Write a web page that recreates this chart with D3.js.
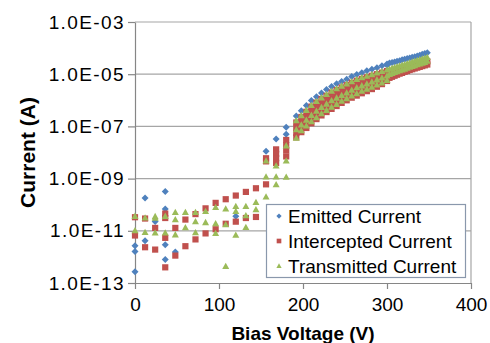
<!DOCTYPE html>
<html><head><meta charset="utf-8">
<script src="https://cdn.jsdelivr.net/npm/d3@7"></script>
<style>
body{margin:0;background:#fff}
text{font-family:"Liberation Sans",Arial,sans-serif;fill:#000}
</style>
</head><body>
<svg id="c" width="490" height="343"></svg>
<script>
const xTicks = [0, 100, 200, 300, 400];
const yTicks = [1e-13, 1e-11, 1e-9, 1e-7, 1e-5, 1e-3];
const yTickLabels = ["1.0E-13", "1.0E-11", "1.0E-09", "1.0E-07", "1.0E-05", "1.0E-03"];
const seriesNames = ["Emitted Current", "Intercepted Current", "Transmitted Current"];
const seriesColors = ["#4F81BD", "#C0504D", "#9BBB59"];

const emitted = [
  [0,-11.57,-11.79,-12.57],[12,-9.74,-11.38],[24,-10.64],[36,-9.49,-10.16,-11.53,-12.10],
  [48,-11.81],[120,-10.44],[156,-7.95],[168,-7.48],[180,-7.03,-7.30],
  [192,-6.60],[198,-6.40],[204,-6.20],[210,-6.01],[216,-5.86],[222,-5.72],[228,-5.59],
  [234,-5.47],[240,-5.37],[246,-5.28],[252,-5.19],[258,-5.09],[264,-5.01],[270,-4.94],
  [276,-4.87],[282,-4.81],[288,-4.75],[294,-4.68],[300,-4.61,-4.66],
  [303,-4.57],[306,-4.55],[309,-4.53],[312,-4.50],[315,-4.48],[318,-4.45],[321,-4.43],
  [324,-4.40],[327,-4.38],[330,-4.35],[333,-4.33],[336,-4.30],[339,-4.27],[342,-4.24],
  [345,-4.21],[348,-4.18]
];
const intercepted = [
  [0,-10.48,-11.18],[12,-10.53,-11.63],[24,-10.89,-11.72],[36,-10.34,-10.51,-11.27,-12.40],
  [48,-10.89,-11.95],[60,-10.57,-11.59],[72,-10.36,-11.33],[84,-10.14,-11.10],
  [96,-9.93,-10.94],[108,-9.79,-10.73],[120,-9.65,-10.65],[132,-9.51,-10.51],
  [144,-9.37,-10.47],[156,-8.22,-8.34,-9.22],[168,-7.88,-8.05,-8.22,-8.40],
  [180,-7.52,-7.72,-7.92,-8.15],[192,-6.85,-7.05,-7.25,-7.42],[198,-6.64,-6.84,-7.04,-7.22],
  [204,-6.44,-6.64,-6.86,-7.06],[210,-6.24,-6.45,-6.66,-6.88],[216,-6.09,-6.30,-6.52,-6.72],
  [222,-5.95,-6.16,-6.38,-6.58],[228,-5.83,-6.04,-6.25,-6.45],[234,-5.71,-5.92,-6.13,-6.33],
  [240,-5.61,-5.82,-6.02,-6.22],[246,-5.51,-5.72,-5.92,-6.10],[252,-5.42,-5.63,-5.82,-6.00],
  [258,-5.33,-5.53,-5.72,-5.90],[264,-5.25,-5.44,-5.63,-5.82],[270,-5.18,-5.37,-5.55,-5.73],
  [276,-5.12,-5.30,-5.48,-5.65],[282,-5.06,-5.24,-5.40,-5.57],[288,-5.00,-5.16,-5.33,-5.48],
  [294,-4.94,-5.10,-5.25,-5.38],[300,-4.88,-5.02,-5.15,-5.26],
  [303,-4.95,-5.14],[306,-4.93,-5.10],[309,-4.90,-5.06],[312,-4.87,-5.02],[315,-4.84,-4.98],
  [318,-4.81,-4.95],[321,-4.78,-4.91],[324,-4.75,-4.88],[327,-4.72,-4.84],[330,-4.69,-4.81],
  [333,-4.66,-4.78],[336,-4.63,-4.75],[339,-4.60,-4.72],[342,-4.57,-4.69],[345,-4.54,-4.66],
  [348,-4.51,-4.63]
];
const transmitted = [
  [0,-10.44,-10.99],[12,-10.50,-11.06],[24,-10.45,-10.51,-11.08],[36,-10.44,-11.08],
  [48,-10.29,-10.57,-11.15],[60,-10.29,-10.88],[72,-10.29,-10.65,-11.07],[84,-10.25,-10.68],
  [96,-10.10,-10.72,-11.10],[108,-10.16,-10.76,-12.36],[120,-10.06,-10.25,-11.16],
  [132,-10.06,-10.42,-10.87],[144,-9.91,-10.19],[156,-8.32,-8.93,-9.70],[168,-8.51,-8.93,-9.23],
  [180,-7.74,-8.32,-8.94],[192,-6.78,-7.12,-7.45],[198,-6.58,-6.94,-7.16],[204,-6.38,-6.76,-6.98],
  [210,-6.19,-6.57,-6.81],[216,-6.04,-6.41,-6.66],[222,-5.90,-6.27,-6.51],[228,-5.77,-6.14,-6.38],
  [234,-5.65,-6.01,-6.26],[240,-5.55,-5.91,-6.15],[246,-5.45,-5.81,-6.03],[252,-5.37,-5.71,-5.93],
  [258,-5.28,-5.61,-5.83],[264,-5.20,-5.51,-5.74],[270,-5.13,-5.44,-5.65],[276,-5.07,-5.37,-5.57],
  [282,-5.01,-5.29,-5.49],[288,-4.95,-5.21,-5.41],[294,-4.89,-5.14,-5.33],[300,-4.83,-5.06,-5.23],
  [303,-4.80,-5.00],[306,-4.77,-4.97],[309,-4.74,-4.93],[312,-4.71,-4.90],[315,-4.68,-4.86],
  [318,-4.65,-4.83],[321,-4.62,-4.80],[324,-4.59,-4.76],[327,-4.56,-4.73],[330,-4.53,-4.70],
  [333,-4.50,-4.67],[336,-4.47,-4.63],[339,-4.44,-4.60],[342,-4.41,-4.57],[345,-4.38,-4.54],
  [348,-4.35,-4.50]
];

// ---- drawing ----
const svg = d3.select("#c");
const L = 135, R = 471, T = 22, B = 283;
const x = d3.scaleLinear().domain([0, 400]).range([L, R]);
const y = d3.scaleLog().domain([1e-13, 1e-3]).range([B, T]);

// gridlines
svg.append("g").selectAll("line").data(yTicks.slice(1)).join("line")
  .attr("x1", L).attr("x2", R).attr("y1", d => y(d)).attr("y2", d => y(d))
  .attr("stroke", "#a6a6a6").attr("stroke-width", 1.2);
// right border
svg.append("line").attr("x1", R).attr("x2", R).attr("y1", T).attr("y2", B)
  .attr("stroke", "#a6a6a6").attr("stroke-width", 1.2);

// axes
const yAxis = svg.append("g").attr("transform", `translate(${L},0)`)
  .call(d3.axisLeft(y).tickValues(yTicks).tickFormat((d, i) => yTickLabels[i]).tickSize(7).tickSizeOuter(0).tickPadding(3));
const xAxis = svg.append("g").attr("transform", `translate(0,${B})`)
  .call(d3.axisBottom(x).tickValues(xTicks).tickFormat(d3.format("d")).tickSize(6).tickSizeOuter(0).tickPadding(5));
[yAxis, xAxis].forEach(a => {
  a.select(".domain").attr("stroke", "#868686").attr("stroke-width", 1.2);
  a.selectAll(".tick line").attr("stroke", "#868686").attr("stroke-width", 1.2);
  a.selectAll("text").attr("font-family", '"Liberation Sans",Arial,sans-serif').attr("fill", "#000");
});
yAxis.selectAll("text").attr("font-size", 19).attr("letter-spacing", 1.4);
xAxis.selectAll("text").attr("font-size", 19).attr("dy", "0.9em");

// axis titles
svg.append("text").attr("x", (L + R) / 2).attr("y", 340).attr("text-anchor", "middle")
  .attr("font-size", 19).attr("font-weight", "bold").text("Bias Voltage (V)");
svg.append("text").attr("transform", `translate(35,${(T + B) / 2}) rotate(-90)`)
  .attr("text-anchor", "middle").attr("font-size", 21).attr("font-weight", "bold").text("Current (A)");

// markers
const shapes = [
  s => `M0,${-3.5*s}L${3.5*s},0L0,${3.5*s}L${-3.5*s},0Z`,
  s => `M${-3.1*s},${-3.1*s}H${3.1*s}V${3.1*s}H${-3.1*s}Z`,
  s => `M0,${-3.6*s}L${3.5*s},${2.7*s}L${-3.5*s},${2.7*s}Z`
];
const flatten = rows => rows.flatMap(r => r.slice(1).map(v => ({V: r[0], I: Math.pow(10, v)})));
[emitted, intercepted, transmitted].forEach((rows, si) => {
  svg.append("g").selectAll("path").data(flatten(rows)).join("path")
    .attr("transform", d => `translate(${x(d.V)},${y(d.I)})`)
    .attr("d", shapes[si](1)).attr("fill", seriesColors[si]);
});

// legend
const lg = svg.append("g");
lg.append("rect").attr("x", 266.5).attr("y", 204.5).attr("width", 199).attr("height", 73)
  .attr("fill", "#fff").attr("stroke", "#8a98ac").attr("stroke-width", 1.2);
seriesNames.forEach((n, i) => {
  const cy = 216 + i * 25;
  lg.append("path").attr("transform", `translate(279,${cy})`).attr("d", shapes[i](0.75)).attr("fill", seriesColors[i]);
  lg.append("text").attr("x", 288).attr("y", cy).attr("dy", "0.35em").attr("font-size", 19).text(n);
});
</script>
</body></html>
